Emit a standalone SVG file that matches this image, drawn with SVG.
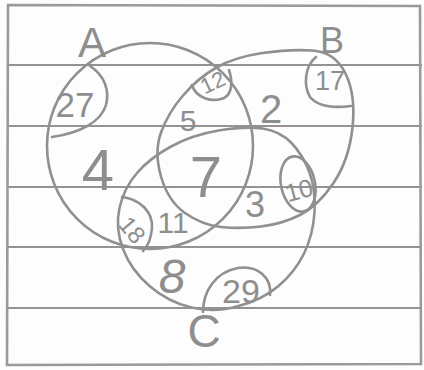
<svg xmlns="http://www.w3.org/2000/svg" width="424" height="370" viewBox="0 0 424 370">
<style>
.rule{stroke:#6f6f6f;stroke-width:1.6;fill:none}
.frame{stroke:#9a9a9a;stroke-width:2.6;fill:none}
.pen{stroke:#909090;stroke-width:2.6;fill:none;stroke-linecap:round;stroke-linejoin:round}
.t{font-family:"Liberation Sans",Arial,sans-serif;fill:#8e8e8e;text-anchor:middle}
</style>
<rect width="424" height="370" fill="#fdfdfd"/>
<g id="paper">
<line class="rule" x1="8" y1="65" x2="422" y2="65"/>
<line class="rule" x1="8" y1="126" x2="422" y2="126"/>
<line class="rule" x1="8" y1="187" x2="422" y2="187"/>
<line class="rule" x1="8" y1="247" x2="422" y2="247"/>
<line class="rule" x1="8" y1="308" x2="422" y2="308"/>
<path class="frame" d="M8,5 L420,6 L421,364 L7,365 Z"/>
</g>
<g id="setA">
<circle class="pen" cx="150" cy="146" r="103"/>
<text class="t" x="92" y="57" font-size="42">A</text>
<text class="t" x="98" y="190" font-size="58">4</text>
</g>
<g id="setB">
<path class="pen" d="M312.5,50.5 Q335,52 345.5,73.5 Q356,95 352.5,127.5 Q349,160 333.5,183 Q318,206 300,215 Q282,224 261,226.5 Q240,229 221,227 Q202,225 185,213 Q168,201 161,176.5 Q154,152 161,132.5 Q168,113 183,95.5 Q198,78 216.5,67.5 Q235,57 262.5,53 Q290,49 312.5,50.5 Z"/>
<text class="t" x="332" y="53" font-size="36">B</text>
<text class="t" x="271" y="123" font-size="40">2</text>
</g>
<g id="setC">
<path class="pen" d="M262.5,128.5 Q280,131 291.5,143 Q303,155 309.5,172.5 Q316,190 314.5,212.5 Q313,235 304,253.5 Q295,272 278.5,286 Q262,300 238.5,306 Q215,313 191.5,307.5 Q168,302 149.5,286 Q131,270 123,249 Q115,228 119.5,208 Q124,188 137,173 Q150,158 171,146.5 Q192,135 218.5,130.5 Q245,126 262.5,128.5 Z"/>
<text class="t" x="204" y="347" font-size="46">C</text>
<text class="t" x="172" y="293" font-size="48" font-style="italic">8</text>
</g>
<g id="regions">
<text class="t" x="188" y="131" font-size="30">5</text>
<text class="t" x="206" y="197" font-size="58">7</text>
<text class="t" x="255" y="217" font-size="36">3</text>
<text class="t" x="173" y="233" font-size="30">11</text>
</g>
<g id="bubble27">
<path class="pen" d="M90,66 C104,75 110,90 106,105 C101,122 80,133 52,137"/>
<text class="t" x="75" y="117" font-size="35">27</text>
</g>
<g id="bubble12">
<path class="pen" d="M192,85 C196,98 212,103 224,98 C232,94 233,82 229,70"/>
<text class="t" x="213" y="90" font-size="22" transform="rotate(-25 213 83)">12</text>
</g>
<g id="bubble17">
<path class="pen" d="M316,57 C305,66 303,85 310,97 C318,107 335,108 351,106"/>
<text class="t" x="330" y="90" font-size="27">17</text>
</g>
<g id="bubble10">
<ellipse class="pen" cx="298" cy="184" rx="17" ry="28" transform="rotate(-12 298 184)"/>
<text class="t" x="299" y="199" font-size="25" transform="rotate(-15 299 190)">10</text>
</g>
<g id="bubble18">
<path class="pen" d="M122,197 C140,199 153,212 152,228 C151,240 148,246 143,251"/>
<text class="t" x="132" y="238" font-size="24" transform="rotate(50 132 230)">18</text>
</g>
<g id="bubble29">
<path class="pen" d="M203,312 C203,292 215,272 238,268 C258,265 272,278 270,295"/>
<text class="t" x="241" y="303" font-size="34">29</text>
</g>
</svg>
